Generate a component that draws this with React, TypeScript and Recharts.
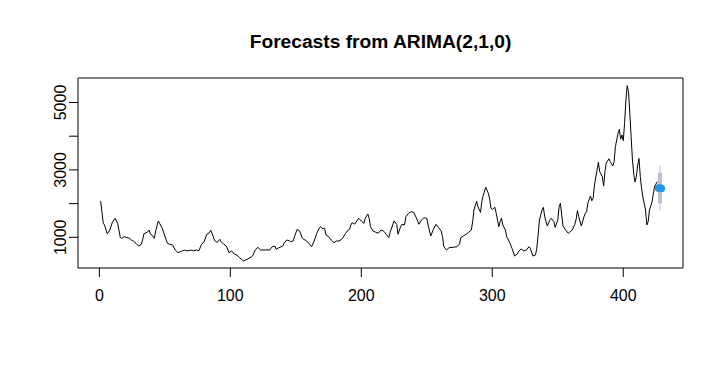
import { ComposedChart, Line, ReferenceArea, XAxis, YAxis } from "recharts";

const FONT = "'Liberation Sans', Arial, sans-serif";

const obsTime = [
  1, 3, 4, 6, 8, 10, 12, 14, 16, 17, 19, 21, 23, 25, 26, 28, 30, 32, 33, 34, 37, 38, 39, 40, 42, 43, 45, 46, 48, 50,
  52, 54, 56, 58, 60, 62, 65, 67, 70, 72, 74, 76, 78, 80, 82, 84, 85, 87, 88, 90, 92, 93, 95, 97, 99, 101, 103, 105,
  107, 110, 112, 115, 117, 119, 121, 123, 127, 130, 132, 134, 135, 137, 140, 141, 143, 145, 146, 148, 149, 151, 153,
  155, 156, 158, 160, 162, 164, 166, 168, 169, 170, 172, 173, 175, 177, 178, 179, 181, 183, 185, 186, 188, 190, 191,
  192, 193, 195, 198, 200, 202, 203, 205, 206, 207, 209, 211, 213, 215, 217, 219, 221, 222, 224, 225, 227, 228, 230,
  231, 233, 234, 236, 238, 240, 242, 244, 246, 248, 250, 251, 253, 255, 257, 259, 261, 262, 263, 265, 267, 270, 273,
  275, 276, 278, 280, 282, 284, 285, 286, 288, 289, 291, 292, 293, 295, 297, 298, 299, 300, 302, 303, 305, 306, 307,
  308, 310, 311, 313, 315, 317, 319, 320, 322, 324, 326, 328, 329, 331, 333, 334, 335, 336, 338, 339, 340, 342, 344,
  345, 347, 348, 350, 351, 352, 353, 354, 356, 358, 360, 361, 363, 364, 365, 366, 368, 370, 371, 372, 373, 375, 376,
  377, 378, 380, 381, 382, 384, 385, 386, 387, 389, 390, 392, 393, 394, 396, 397, 398, 399, 400, 401, 402, 403, 404,
  405, 406, 407, 408, 409, 410, 411, 412, 413, 414, 415, 417, 418, 419, 420, 422, 423, 424, 426,
];
const obsValue = [
  2080, 1415, 1365, 1100, 1220, 1450, 1565, 1415, 990, 970, 1020, 990, 970, 900, 890, 820, 740, 790, 920, 1100, 1165,
  1215, 1090, 1070, 970, 1190, 1485, 1415, 1265, 1040, 820, 790, 770, 620, 545, 575, 620, 595, 620, 600, 620, 600, 790,
  870, 1090, 1135, 1215, 1020, 900, 850, 940, 870, 790, 740, 545, 595, 505, 475, 395, 300, 330, 395, 445, 620, 705, 620,
  625, 620, 720, 740, 645, 690, 740, 820, 920, 900, 870, 890, 1020, 1235, 1185, 970, 940, 900, 820, 720, 890, 1120,
  1285, 1315, 1265, 1265, 1070, 1020, 920, 890, 840, 890, 890, 940, 990, 1120, 1215, 1235, 1365, 1435, 1390, 1565,
  1485, 1415, 1565, 1690, 1565, 1315, 1185, 1150, 1120, 1215, 1185, 1090, 990, 1150, 1365, 1485, 1385, 1090, 1315,
  1385, 1365, 1610, 1710, 1760, 1740, 1580, 1385, 1515, 1580, 1565, 1365, 1040, 1235, 1385, 1285, 1185, 1020, 720, 625,
  690, 705, 720, 800, 990, 1040, 1090, 1150, 1215, 1465, 1810, 2075, 1910, 1740, 2055, 2235, 2485, 2305, 2135, 1860,
  1830, 1890, 1710, 1315, 1465, 1565, 1365, 1215, 1020, 870, 675, 445, 505, 575, 655, 600, 620, 720, 675, 445, 475, 675,
  1070, 1515, 1810, 1890, 1610, 1335, 1515, 1565, 1465, 1295, 1515, 1890, 2010, 1660, 1335, 1215, 1120, 1185, 1215,
  1385, 1535, 1790, 1610, 1335, 1610, 1710, 1760, 2025, 2225, 2085, 2155, 2550, 3000, 3225, 2950, 2800, 2520, 2950,
  3200, 3330, 3245, 3115, 3245, 3690, 4085, 4205, 3910, 4035, 3865, 4380, 5075, 5500, 5320, 4680, 3985, 3295, 2880,
  2640, 2800, 3145, 3340, 2800, 2450, 2190, 1810, 1365, 1465, 1810, 2055, 2305, 2520, 2650,
];

// point forecast and prediction intervals
const fcTime = [427, 429];
const fcValue = [2460, 2450];
const piTime = 428;
const pi95 = [1810, 3115];
const pi80 = [2010, 2915];

const xTicks = [0, 100, 200, 300, 400];
const yTicks = [1000, 2000, 3000, 4000, 5000];
const yLabelled = [1000, 3000, 5000];
const xDomain = [-16.3, 445.6];
const yDomain = [89, 5727];

const observed = obsTime.map((t, i) => ({ t, v: obsValue[i] }));
const forecast = fcTime.map((t, i) => ({ t, v: fcValue[i] }));
const band95 = pi95.map((v) => ({ t: piTime, v }));
const band80 = pi80.map((v) => ({ t: piTime, v }));

const YTick = (props: any) => {
  const { x, y, payload } = props;
  if (!yLabelled.includes(payload.value)) return <g />;
  return (
    <text x={x} y={y} transform={`rotate(-90 ${x} ${y})`} textAnchor="middle" fontSize={16} fontFamily={FONT} fill="#000">
      {payload.value}
    </text>
  );
};

export default function App() {
  return (
    <div style={{ position: "absolute", left: 0, top: 0, width: 724, height: 366, background: "#fff" }}>
      <div
        style={{
          position: "absolute",
          left: 78,
          width: 605,
          top: 32,
          lineHeight: "20px",
          textAlign: "center",
          fontFamily: FONT,
          fontWeight: "bold",
          fontSize: 19.2,
          color: "#000",
        }}
      >
        Forecasts from ARIMA(2,1,0)
      </div>
      <ComposedChart width={724} height={366} data={observed} margin={{ top: 78, right: 41, bottom: 0, left: 0 }}>
        <XAxis
          type="number"
          dataKey="t"
          domain={xDomain}
          allowDataOverflow
          ticks={xTicks}
          interval={0}
          height={98}
          axisLine={false}
          tickSize={9}
          tickMargin={13}
          tickLine={{ stroke: "#000" }}
          tick={{ fontSize: 16, fill: "#000", fontFamily: FONT }}
        />
        <YAxis
          type="number"
          domain={yDomain}
          allowDataOverflow
          ticks={yTicks}
          interval={0}
          width={78}
          axisLine={false}
          tickSize={9}
          tickMargin={3}
          tickLine={{ stroke: "#000" }}
          tick={<YTick />}
        />
        <ReferenceArea x1={xDomain[0]} x2={xDomain[1]} y1={yDomain[0]} y2={yDomain[1]} fill="none" stroke="#000" strokeWidth={1} ifOverflow="visible" />
        <Line data={observed} dataKey="v" type="linear" stroke="#000" strokeWidth={1} dot={false} isAnimationActive={false} />
        <Line data={band95} dataKey="v" type="linear" stroke="#DADCEA" strokeWidth={2} dot={false} isAnimationActive={false} />
        <Line data={band80} dataKey="v" type="linear" stroke="#BCBFD8" strokeWidth={4} dot={false} isAnimationActive={false} />
        <Line
          data={forecast}
          dataKey="v"
          type="linear"
          stroke="none"
          dot={{ r: 3.5, fill: "#2297E6", stroke: "#2297E6", strokeWidth: 1 }}
          isAnimationActive={false}
        />
      </ComposedChart>
    </div>
  );
}
